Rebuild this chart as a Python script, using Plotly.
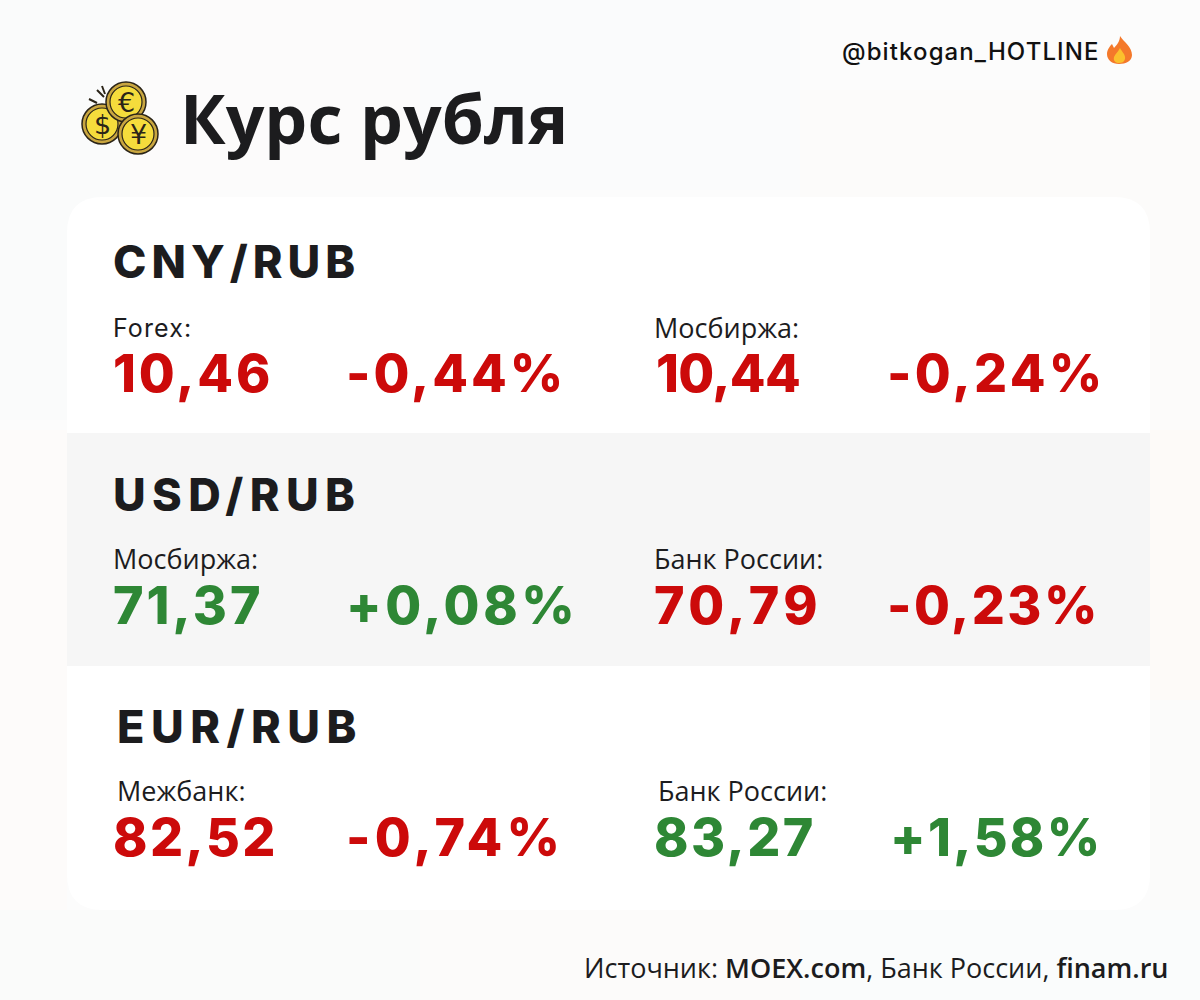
import json

import plotly.graph_objects as go

TITLE = "Курс рубля"
HANDLE = "@bitkogan_HOTLINE"

pairs = ["CNY/RUB", "USD/RUB", "EUR/RUB"]
left_labels = ["Forex:", "Мосбиржа:", "Межбанк:"]
left_values = ["10,46", "71,37", "82,52"]
left_changes = ["-0,44%", "+0,08%", "-0,74%"]
right_labels = ["Мосбиржа:", "Банк России:", "Банк России:"]
right_values = ["10,44", "70,79", "83,27"]
right_changes = ["-0,24%", "-0,23%", "+1,58%"]
# colour of each number as drawn in the picture
left_up = [False, True, False]
right_up = [False, False, True]

RED = "#cc0a0a"
GREEN = "#2e8735"
DARK = "#1c1c1e"
HEAD_FONT = "Inter"
BODY_FONT = "Open Sans"

pair_x = [112, 112, 116]
pair_y = [261, 494, 726]
label_y = [327, 558, 790]
value_y = [373, 605, 837]
left_label_x = [112, 112, 116]
right_label_x = [653, 653, 657]
left_value_x = [112, 112, 112]
right_value_x = [655, 653, 653]
left_change_x = [345, 345, 345]
right_change_x = [886, 886, 889]

# Montserrat is not installed, so the Inter headings get opened up to the reference widths
spacing = {
    "CNY/RUB": 5, "USD/RUB": 6.4, "EUR/RUB": 6.5,
    "10,46": 2.9, "-0,44%": 3, "10,44": -0.6, "-0,24%": 3.3,
    "71,37": 3, "+0,08%": 3.6, "70,79": 4.6, "-0,23%": 2.5,
    "82,52": 2.4, "-0,74%": 4.3, "83,27": 2.4, "+1,58%": 2.3,
    HANDLE: 1.1, "Forex:": 1.1,
}

POST_SCRIPT = """
document.body.style.margin = '0';
var spacing = %s;
document.querySelectorAll('.annotation-text').forEach(function (t) {
    if (spacing[t.textContent] !== undefined) {
        t.style.letterSpacing = spacing[t.textContent] + 'px';
    }
});
""" % json.dumps(spacing)

fig = go.Figure()


def add_text(x, y, text, size, color, family=HEAD_FONT, weight=400, anchor="left"):
    fig.add_annotation(x=x, y=y, text=text, showarrow=False, xref="x", yref="y",
                       xanchor=anchor, yanchor="middle", align=anchor, borderpad=0,
                       font=dict(family=family, size=size, color=color, weight=weight))


def add_coin(cx, cy, r, symbol, size):
    fig.add_shape(type="circle", x0=cx - r, x1=cx + r, y0=cy - r, y1=cy + r,
                  fillcolor="#c9a640", line=dict(color="#2a2418", width=1.5))
    fig.add_shape(type="circle", x0=cx - r + 4, x1=cx + r - 4, y0=cy - r + 4, y1=cy + r - 4,
                  fillcolor="#f5dc3c", line=dict(color="#2a2418", width=1.2))
    add_text(cx, cy, symbol, size, "#2a2418", family="DejaVu Sans", anchor="center")


# faint photo-like blotches of the background
blotches = [
    (0, 0, 130, 420, "#fafbfb"), (130, 0, 420, 190, "#fcfbfb"), (420, 0, 800, 190, "#fafbfc"),
    (800, 90, 1200, 430, "#fcfbfa"), (1150, 430, 1200, 700, "#fdfaf8"), (0, 430, 67, 1000, "#fdfbfa"),
    (0, 910, 420, 1000, "#fafbfa"), (420, 910, 800, 1000, "#fcfbfa"), (800, 910, 1200, 1000, "#fafcfc"),
    (1150, 700, 1200, 910, "#fbfbfa"),
]
for x0, y0, x1, y1, color in blotches:
    fig.add_shape(type="rect", x0=x0, x1=x1, y0=y0, y1=y1, fillcolor=color, line_width=0, layer="below")

# white card with rounded corners and the grey middle band
fig.add_shape(type="path", layer="below", fillcolor="#ffffff", line_width=0,
              path="M 67 233 Q 67 197 103 197 L 1114 197 Q 1150 197 1150 233 L 1150 874 "
                   "Q 1150 910 1114 910 L 103 910 Q 67 910 67 874 Z")
fig.add_shape(type="rect", x0=67, x1=1150, y0=433, y1=666, fillcolor="#f6f6f6", line_width=0, layer="below")

# coins icon
add_coin(102, 124, 20, "$", 27)
add_coin(126, 102, 20, "€", 27)
add_coin(138, 134, 20, "¥", 27)
for path in ["M 89 99 L 97 103", "M 97 90 L 104 97", "M 102 86 L 105 94"]:
    fig.add_shape(type="path", path=path, line=dict(color="#2a2418", width=2))

# flame next to the handle
fig.add_shape(type="path", fillcolor="#f4792b", line_width=0,
              path="M 1120 36 C 1124 42 1132 47 1132 55 C 1132 61 1126 64 1119 64 "
                   "C 1112 64 1107 60 1107 54 C 1107 50 1110 46 1112 44 L 1114 48 C 1117 45 1120 41 1120 36 Z")
fig.add_shape(type="path", fillcolor="#fbc02d", line_width=0,
              path="M 1120 48 C 1122 52 1126 55 1125 59 C 1124 62 1122 63 1119 63 "
                   "C 1116 63 1113 61 1114 57 C 1115 54 1118 52 1120 48 Z")

add_text(179, 117, TITLE, 68, DARK, family=BODY_FONT, weight=700)
add_text(841, 51, HANDLE, 24, "#111111", weight=500)

for i in range(len(pairs)):
    add_text(pair_x[i], pair_y[i], pairs[i], 45, DARK, weight=800)
    if left_labels[i] == "Forex:":
        add_text(left_label_x[i], label_y[i] + 1, left_labels[i], 25, DARK)
    else:
        add_text(left_label_x[i], label_y[i], left_labels[i], 27, DARK, family=BODY_FONT)
    add_text(right_label_x[i], label_y[i], right_labels[i], 27, DARK, family=BODY_FONT)
    left_color = GREEN if left_up[i] else RED
    right_color = GREEN if right_up[i] else RED
    add_text(left_value_x[i], value_y[i], left_values[i], 52, left_color, weight=800)
    add_text(left_change_x[i], value_y[i], left_changes[i], 52, left_color, weight=800)
    add_text(right_value_x[i], value_y[i], right_values[i], 52, right_color, weight=800)
    add_text(right_change_x[i], value_y[i], right_changes[i], 52, right_color, weight=800)

add_text(1170, 967, "Источник: <span style='font-weight:600'>MOEX.com</span>, Банк России, "
                    "<span style='font-weight:600'>finam.ru</span>", 27, DARK,
         family=BODY_FONT, anchor="right")

fig.update_layout(width=1200, height=1000, margin=dict(l=0, r=0, t=0, b=0),
                  paper_bgcolor="#fcfcfc", plot_bgcolor="rgba(0,0,0,0)", showlegend=False,
                  xaxis=dict(range=[0, 1200], visible=False, fixedrange=True),
                  yaxis=dict(range=[1000, 0], visible=False, fixedrange=True))

fig.write_html("out.html", config=dict(displayModeBar=False), post_script=POST_SCRIPT)
